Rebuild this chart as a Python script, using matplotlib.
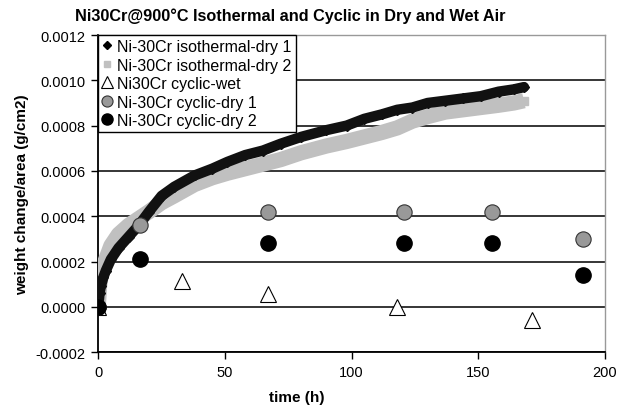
import matplotlib.pyplot as plt

plt.rcParams['font.family'] = ['Liberation Sans', 'DejaVu Sans']

# isothermal runs (h, g/cm2)
t_iso = [0, 0.5, 1, 2, 3, 5, 8, 12, 16, 20, 25, 30, 38, 45, 51, 58, 65, 72, 80,
         90, 98, 105, 112, 118, 124, 130, 137, 144, 151, 158, 164, 168]
iso_dry1 = [0, 0.00006, 0.00009, 0.00013, 0.00016, 0.00021, 0.00026, 0.00031,
            0.00036, 0.00042, 0.00049, 0.00053, 0.00058, 0.00061, 0.00064,
            0.00067, 0.00069, 0.00072, 0.00075, 0.00078, 0.00080, 0.00083,
            0.00085, 0.00087, 0.00088, 0.00090, 0.00091, 0.00092, 0.00093,
            0.00095, 0.00096, 0.00097]
iso_dry2 = [0, 0.00009, 0.00013, 0.00018, 0.00021, 0.00027, 0.00032, 0.00036,
            0.00039, 0.00042, 0.00046, 0.00049, 0.00054, 0.00057, 0.00059,
            0.00061, 0.00063, 0.00065, 0.00068, 0.00071, 0.00073, 0.00075,
            0.00077, 0.00079, 0.00082, 0.00084, 0.00086, 0.00087, 0.00088,
            0.00089, 0.00090, 0.00091]

# cyclic runs
t_wet = [0, 33, 67, 118, 171]
cyc_wet = [0, 0.000115, 0.000055, 0.0, -0.00006]
t_cyc = [0, 16.5, 67, 120.5, 155.5, 191.5]
cyc_dry1 = [0, 0.00036, 0.00042, 0.00042, 0.00042, 0.00030]
cyc_dry2 = [0, 0.00021, 0.00028, 0.00028, 0.00028, 0.00014]

fig = plt.figure(figsize=(6.18, 4.14), dpi=100)
ax = fig.add_axes([0.159, 0.147, 0.82, 0.766])

ax.plot(t_iso, iso_dry2, color='#c0c0c0', lw=11, solid_capstyle='butt',
        marker='s', ms=6, mec='#c0c0c0', mfc='#c0c0c0', zorder=3)
ax.plot(t_iso, iso_dry1, color='#111111', lw=7.5, solid_capstyle='round',
        marker='D', ms=5, mec='#111111', mfc='#111111', zorder=4)
ax.plot(t_wet, cyc_wet, ls='none', marker='^', ms=11, mfc='white',
        mec='black', mew=0.8, zorder=5)
ax.plot(t_cyc, cyc_dry1, ls='none', marker='o', ms=11, mfc='#999999',
        mec='#333333', mew=0.8, zorder=5)
ax.plot(t_cyc, cyc_dry2, ls='none', marker='o', ms=11, mfc='black',
        mec='black', zorder=6)

# legend proxies
h1, = ax.plot([], [], ls='none', marker='D', ms=4, color='black')
h2, = ax.plot([], [], ls='none', marker='s', ms=4.5, color='#c0c0c0')
h3, = ax.plot([], [], ls='none', marker='^', ms=8, mfc='white', mec='black', mew=0.8)
h4, = ax.plot([], [], ls='none', marker='o', ms=8, mfc='#999999', mec='#333333', mew=0.8)
h5, = ax.plot([], [], ls='none', marker='o', ms=8, color='black')
leg = ax.legend([h1, h2, h3, h4, h5],
                ['Ni-30Cr isothermal-dry 1', 'Ni-30Cr isothermal-dry 2',
                 'Ni30Cr cyclic-wet', 'Ni-30Cr cyclic-dry 1', 'Ni-30Cr cyclic-dry 2'],
                loc='upper left', borderaxespad=0, fontsize=11.5, frameon=True,
                fancybox=False, edgecolor='black', framealpha=1,
                handlelength=0.6, handletextpad=0.35, labelspacing=0.22,
                borderpad=0.25)
leg.get_frame().set_linewidth(1.0)
leg.set_zorder(10)

ax.set_xlim(0, 200)
ax.set_ylim(-0.0002, 0.0012)
ax.set_xticks([0, 50, 100, 150, 200])
ax.set_yticks([-0.0002, 0, 0.0002, 0.0004, 0.0006, 0.0008, 0.0010, 0.0012])
ax.set_yticklabels(['-0.0002', '0.0000', '0.0002', '0.0004', '0.0006',
                    '0.0008', '0.0010', '0.0012'])
ax.tick_params(labelsize=10.5, direction='out', length=5, width=1, pad=4)
ax.yaxis.grid(True, color='black', lw=1.1)
ax.set_axisbelow(True)
for s in ['left', 'bottom']:
    ax.spines[s].set_linewidth(1.3)
for s in ['top', 'right']:
    ax.spines[s].set_color('#999999')
    ax.spines[s].set_linewidth(1.0)

ax.set_ylabel('weight change/area (g/cm2)', fontsize=11, fontweight='bold',
              labelpad=5)
fig.text(297 / 618, 1 - 398 / 414, 'time (h)', fontsize=11,
         fontweight='bold', ha='center', va='center')
fig.text(290 / 618, 1 - 16 / 414,
         'Ni30Cr@900°C Isothermal and Cyclic in Dry and Wet Air',
         fontsize=11.7, fontweight='bold', ha='center', va='center')

fig.savefig('out.png', dpi=100)
